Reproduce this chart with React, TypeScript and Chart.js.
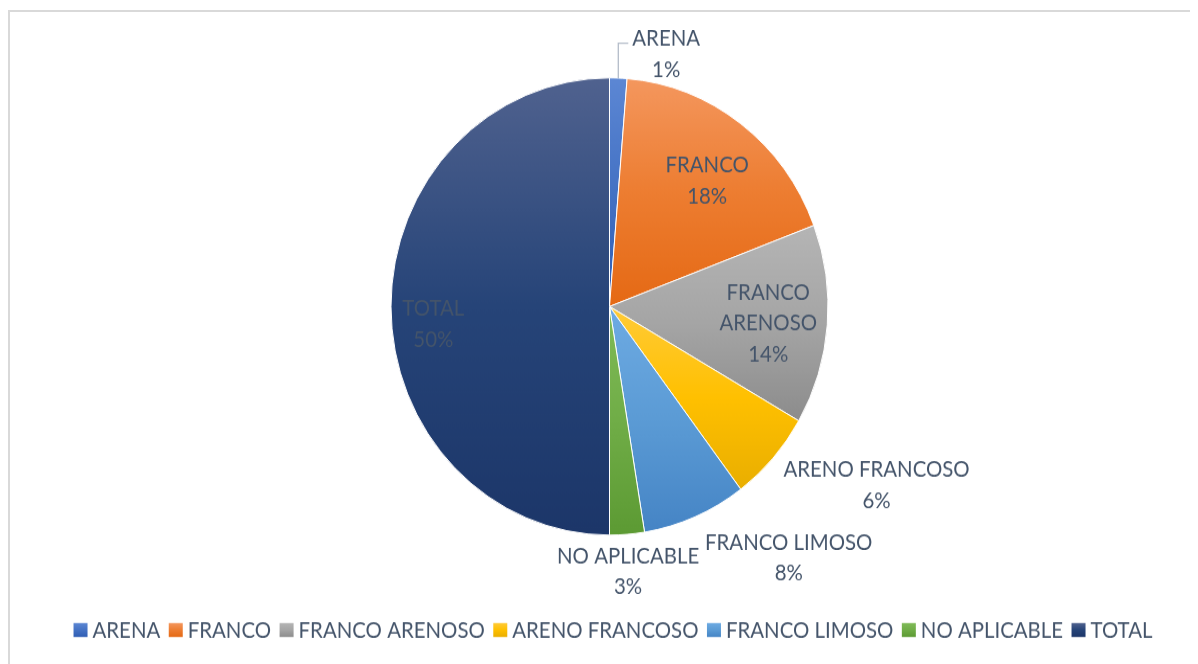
import React, { useEffect, useRef } from 'react';
import { Chart, registerables } from 'chart.js';

Chart.register(...registerables);

// ---- data ----
const categories = ['ARENA', 'FRANCO', 'FRANCO ARENOSO', 'ARENO FRANCOSO', 'FRANCO LIMOSO', 'NO APLICABLE', 'TOTAL'];
const values = [1, 14, 11, 5, 6, 2, 39];

// ---- styles ----
const baseColors = ['#4472C4', '#ED7D31', '#A5A5A5', '#FFC000', '#5B9BD5', '#70AD47', '#264478'];
const lightColors = ['#5C87D4', '#F4975E', '#B5B5B5', '#FFCB38', '#6EABE3', '#80BB58', '#50628F'];
const darkColors = ['#2F5DB4', '#E56914', '#8C8C8C', '#E9AE00', '#4584C5', '#5C9A33', '#1C3669'];
const wrappedLabels = ['FRANCO ARENOSO'];
const labelRadius = [1.135, 0.71, 0.73, 1.45, 1.37, 1.16, 0.81];
const labelAngleShift = [10.9, 2.1, 1.0, -9, -13.7, 0.4, -5.4];
const leaderLines = [true, false, false, false, false, false, false];

const TEXT_COLOR = '#44546A';
const FONT = '20.4px Lato';
const CANVAS_W = 1190;
const CANVAS_H = 627;
const SCALE_Y = 656 / 627;
const LINE_H = 29.6;
const CAP_HALF = 7.3;

function makeGrad(ctx: CanvasRenderingContext2D, y0: number, y1: number, i: number) {
  const g = ctx.createLinearGradient(0, y0, 0, y1);
  g.addColorStop(0, lightColors[i]);
  g.addColorStop(0.5, baseColors[i]);
  g.addColorStop(1, darkColors[i]);
  return g;
}

function sliceBackground(context: any) {
  const i = context.dataIndex;
  const chart = context.chart;
  const area = chart.chartArea;
  if (i === undefined || !area) return baseColors[i ?? 0];
  const total = values.reduce((a, b) => a + b, 0);
  let cum = 0;
  for (let k = 0; k < i; k++) cum += values[k];
  const start = -Math.PI / 2 + (2 * Math.PI * cum) / total;
  const end = start + (2 * Math.PI * values[i]) / total;
  const cx = (area.left + area.right) / 2;
  const cy = (area.top + area.bottom) / 2;
  const r = Math.min(area.right - area.left, area.bottom - area.top) / 2;
  const ys = [cy, cy + r * Math.sin(start), cy + r * Math.sin(end)];
  for (let k = -2; k <= 3; k++) {
    const down = Math.PI / 2 + 2 * Math.PI * k;
    const up = -Math.PI / 2 + 2 * Math.PI * k;
    if (down > start && down < end) ys.push(cy + r);
    if (up > start && up < end) ys.push(cy - r);
  }
  const y0 = Math.min(...ys);
  const y1 = Math.max(...ys);
  return makeGrad(chart.ctx, y0, y1 > y0 ? y1 : y0 + 1, i);
}

const labelPlugin = {
  id: 'sliceLabels',
  afterDatasetsDraw(chart: any) {
    const meta = chart.getDatasetMeta(0);
    const ctx: CanvasRenderingContext2D = chart.ctx;
    const total = values.reduce((a, b) => a + b, 0);
    ctx.save();
    ctx.font = FONT;
    ctx.fillStyle = TEXT_COLOR;
    ctx.textAlign = 'center';
    ctx.textBaseline = 'alphabetic';
    meta.data.forEach((arc: any, i: number) => {
      const { x, y, startAngle, endAngle, outerRadius } = arc.getProps(
        ['x', 'y', 'startAngle', 'endAngle', 'outerRadius'],
        true
      );
      const mid = (startAngle + endAngle) / 2;
      const a = mid + (labelAngleShift[i] * Math.PI) / 180;
      const lx = x + Math.cos(a) * outerRadius * labelRadius[i];
      const ly = y + Math.sin(a) * outerRadius * labelRadius[i];
      const name = categories[i];
      const lines = wrappedLabels.includes(name) ? name.split(' ') : [name];
      lines.push(Math.round((values[i] / total) * 100) + '%');
      const firstY = ly - ((lines.length - 1) * LINE_H) / 2;
      lines.forEach((t, k) => ctx.fillText(t, lx, firstY + k * LINE_H + CAP_HALF));
      if (leaderLines[i]) {
        const sx = x + Math.cos(mid) * outerRadius;
        const sy = y + Math.sin(mid) * outerRadius;
        const w = Math.max(...lines.map((t) => ctx.measureText(t).width));
        const ty = firstY + 4.5;
        const tx = lx - w / 2 - 4;
        ctx.save();
        ctx.strokeStyle = '#B4BCC9';
        ctx.lineWidth = 1.3;
        ctx.beginPath();
        ctx.moveTo(sx, sy);
        ctx.lineTo(sx, ty);
        ctx.lineTo(tx, ty);
        ctx.stroke();
        ctx.restore();
      }
    });
    ctx.restore();
  },
};

const legendPlugin = {
  id: 'bottomLegend',
  afterDraw(chart: any) {
    const ctx: CanvasRenderingContext2D = chart.ctx;
    ctx.save();
    ctx.font = FONT;
    const boxW = 14;
    const boxH = 14 / SCALE_Y;
    const boxGap = 5;
    const itemGap = 8.5;
    const widths = categories.map((c) => ctx.measureText(c).width);
    const totalW = widths.reduce((s, w) => s + boxW + boxGap + w, 0) + itemGap * (categories.length - 1);
    const centerX = 605;
    const cy = 594.5;
    let x = centerX - totalW / 2;
    ctx.textAlign = 'left';
    ctx.textBaseline = 'alphabetic';
    categories.forEach((c, i) => {
      ctx.fillStyle = makeGrad(ctx, cy - boxH / 2, cy + boxH / 2, i);
      ctx.fillRect(x, cy - boxH / 2, boxW, boxH);
      x += boxW + boxGap;
      ctx.fillStyle = TEXT_COLOR;
      ctx.fillText(c, x, cy + CAP_HALF);
      x += widths[i] + itemGap;
    });
    ctx.restore();
  },
};

export default function App() {
  const canvasRef = useRef<HTMLCanvasElement | null>(null);

  useEffect(() => {
    if (!canvasRef.current) return;
    const chart = new Chart(canvasRef.current, {
      type: 'pie',
      data: {
        labels: categories,
        datasets: [
          {
            data: values,
            backgroundColor: sliceBackground as any,
            borderColor: '#FFFFFF',
            borderWidth: 1,
          },
        ],
      },
      options: {
        responsive: false,
        maintainAspectRatio: false,
        animation: false,
        layout: { padding: { left: 382.5, right: 369.5, top: 66.3, bottom: 122.7 } },
        plugins: {
          legend: { display: false },
          tooltip: { enabled: false },
        },
      },
      plugins: [labelPlugin, legendPlugin],
    });
    return () => chart.destroy();
  }, []);

  return (
    <div style={{ position: 'relative', width: 1190, height: 656, overflow: 'hidden', background: '#FFFFFF' }}>
      <canvas
        ref={canvasRef}
        width={CANVAS_W}
        height={CANVAS_H}
        style={{
          position: 'absolute',
          left: 0,
          top: 0,
          width: CANVAS_W + 'px',
          height: CANVAS_H + 'px',
          transform: `scaleY(${SCALE_Y})`,
          transformOrigin: '0 0',
        }}
      />
      <div
        style={{
          position: 'absolute',
          left: 0,
          top: 2,
          width: 1300,
          height: 800,
          border: '2px solid #D9D9D9',
          boxSizing: 'border-box',
          pointerEvents: 'none',
        }}
      />
    </div>
  );
}
